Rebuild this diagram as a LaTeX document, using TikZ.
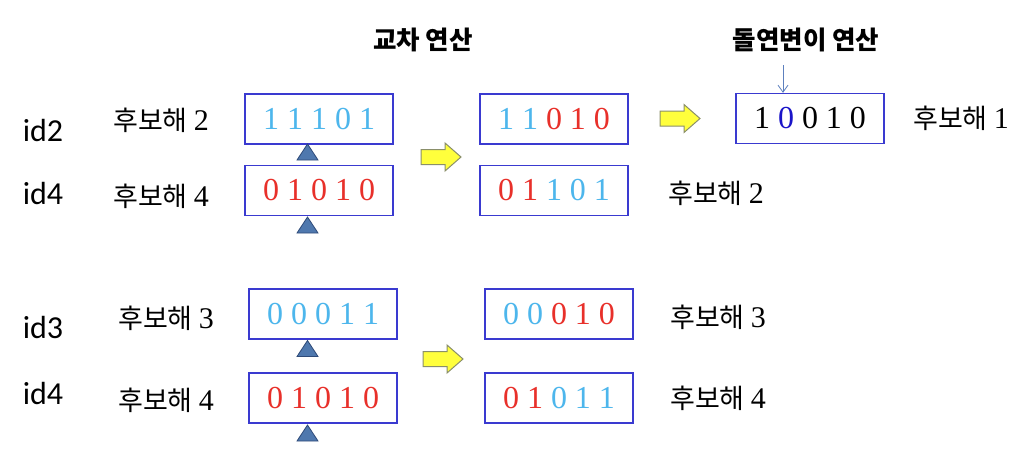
\documentclass[tikz,border=0pt]{standalone}
\usepackage{fontspec}
\setmainfont{Liberation Serif}
\newfontfamily\kr{Noto Sans CJK KR}
\newfontfamily\idf{Carlito}
\usetikzlibrary{arrows.meta}
\definecolor{lblue}{HTML}{4DB6EC}
\definecolor{dred}{HTML}{E8302A}
\definecolor{mblue}{HTML}{1A14C8}
\definecolor{boxblue}{HTML}{3A3AD0}
\definecolor{trifill}{HTML}{4F78AE}
\definecolor{triline}{HTML}{2E4A78}
\definecolor{yfill}{HTML}{FFFF3C}
\definecolor{yline}{HTML}{8A8F6A}
\definecolor{smallarrow}{HTML}{5D80BE}
\newcommand\dB[1]{\textcolor{lblue}{#1}}
\newcommand\dR[1]{\textcolor{dred}{#1}}
\newcommand\dM[1]{\textcolor{mblue}{#1}}
\newcommand\ldig[1]{{\rmfamily\fontsize{30}{34}\selectfont #1}}
\begin{document}
\begin{tikzpicture}[x=1pt,y=-1pt,
 bits/.style={draw=boxblue, line width=1.3pt, minimum width=148pt, minimum height=50pt, inner sep=0pt, font=\fontsize{32}{36}\selectfont},
 cand/.style={anchor=west, inner sep=0pt, font=\kr\fontsize{27}{30}\selectfont},
 idl/.style={inner sep=0pt, font=\idf\fontsize{32}{36}\selectfont},
 ttl/.style={inner sep=0pt, font=\kr\bfseries\fontsize{25.5}{29}\selectfont},
 yarrow/.pic={\draw[fill=yfill, draw=yline, line width=1pt, line join=miter] (-20,-7.5) -- (4,-7.5) -- (4,-14) -- (20,0) -- (4,14) -- (4,7.5) -- (-20,7.5) -- cycle;},
 tri/.pic={\draw[fill=trifill, draw=triline, line width=0.8pt] (-10.5,8) -- (10.5,8) -- (0,-8) -- cycle;}
]
\useasboundingbox (0,0) rectangle (1030,458);

% titles
\node[ttl] (t1) at (423,40) {교차 연산};
\node[ttl] (t2) at (806,40) {돌연변이 연산};

% id labels
\node[idl] (i2) at (43,130) {id2};
\node[idl] (i4a) at (43,193) {id4};
\node[idl] (i3) at (43,327) {id3};
\node[idl] (i4b) at (43,393) {id4};

% candidate labels
\node[cand] (c2l) at (113,120) {후보해 \ldig{2}};
\node[cand] (c4l) at (113,196) {후보해 \ldig{4}};
\node[cand] (c3l) at (118,318) {후보해 \ldig{3}};
\node[cand] (c4m) at (118,400) {후보해 \ldig{4}};
\node[cand] (c2r) at (668,193) {후보해 \ldig{2}};
\node[cand] (c1r) at (913,118) {후보해 \ldig{1}};
\node[cand] (c3r) at (670,317) {후보해 \ldig{3}};
\node[cand] (c4r) at (670,398) {후보해 \ldig{4}};

% bit boxes
\node[bits] (A) at (319,119) {\dB{1 1 1 0 1}};
\node[bits] (B) at (319,190.5) {\dR{0 1 0 1 0}};
\node[bits] (C) at (554,119) {\dB{1 1 }\dR{0 1 0}};
\node[bits] (D) at (554,190.5) {\dR{0 1 }\dB{1 0 1}};
\node[bits] (E) at (810,118.5) {1 \dM{0} 0 1 0};
\node[bits] (F) at (323,314) {\dB{0 0 0 1 1}};
\node[bits] (G) at (323,398) {\dR{0 1 0 1 0}};
\node[bits] (H) at (559,314) {\dB{0 0 }\dR{0 1 0}};
\node[bits] (I) at (559,398) {\dR{0 1 }\dB{0 1 1}};

% crossover points
\pic at (307.5,152) {tri};
\pic at (307.5,225) {tri};
\pic at (307.5,348.5) {tri};
\pic at (307.5,433) {tri};

% yellow arrows
\pic at (441,157) {yarrow};
\pic at (680,118.5) {yarrow};
\pic at (443,359) {yarrow};

% mutation pointer
\coordinate (mt) at (783,65);
\draw[smallarrow, line width=0.8pt, -{Straight Barb[length=7pt,width=10pt]}] (mt) -- (mt |- E.north);
\end{tikzpicture}
\end{document}
